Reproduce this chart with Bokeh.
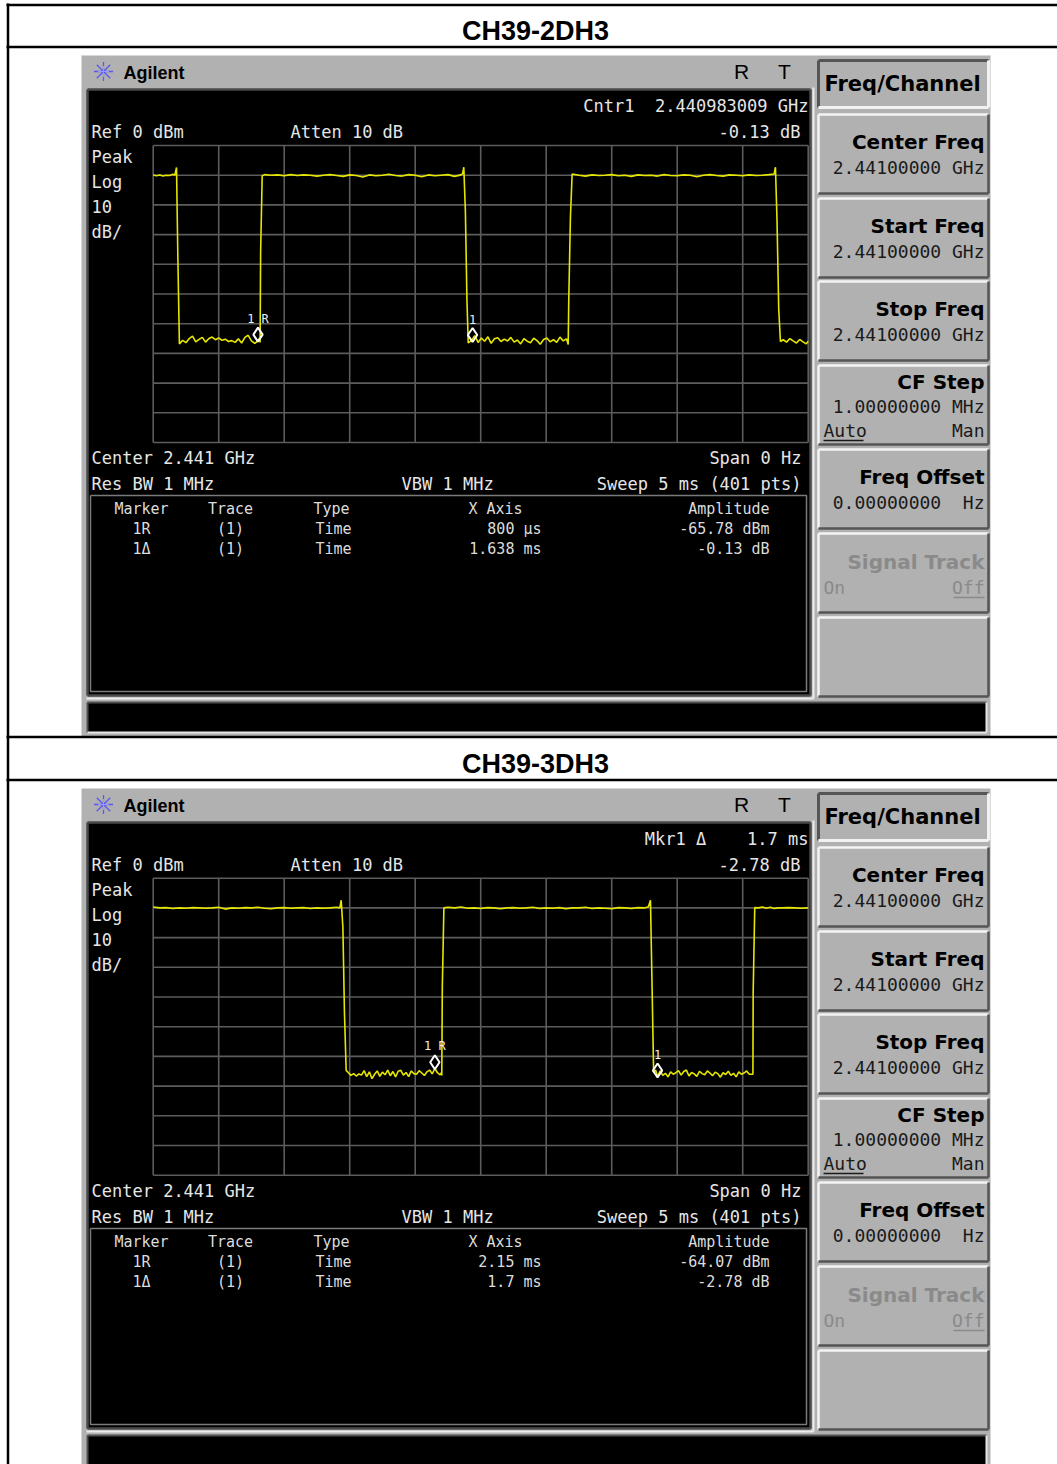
from bokeh.plotting import figure
from bokeh.models import Range1d
from bokeh.core.properties import value
from bokeh.embed import file_html
from bokeh.resources import INLINE

# ---------------- data ----------------
titles = ["CH39-2DH3", "CH39-3DH3"]
sweep_time_ms = 5.0
ref_level_dbm = 0.0
db_per_div = 10.0
n_divs = 10

# zero-span trace, CH39-2DH3 (time in ms, level in dBm)
trace1_t = [0.000, 0.025, 0.050, 0.075, 0.100, 0.125, 0.150, 0.165, 0.178,
            0.188, 0.200,
            0.225, 0.250, 0.275, 0.300, 0.325, 0.350, 0.375, 0.400, 0.425, 0.450,
            0.475, 0.500, 0.525, 0.550, 0.575, 0.600, 0.625, 0.650, 0.675, 0.700,
            0.725, 0.750, 0.775, 0.800, 0.812,
            0.816, 0.820, 0.832,
            0.85, 0.90, 0.95, 1.00, 1.05, 1.10, 1.15, 1.20, 1.25, 1.30, 1.35, 1.40,
            1.45, 1.50, 1.55, 1.60, 1.65, 1.70, 1.75, 1.80, 1.85, 1.90, 1.95, 2.00,
            2.05, 2.10, 2.15, 2.20, 2.25, 2.30, 2.35, 2.362, 2.371,
            2.383, 2.395, 2.405,
            2.430, 2.455, 2.480, 2.505, 2.530, 2.555, 2.580, 2.605, 2.630, 2.655,
            2.680, 2.705, 2.730, 2.755, 2.780, 2.805, 2.830, 2.855, 2.880, 2.905,
            2.930, 2.955, 2.980, 3.005, 3.030, 3.055, 3.080, 3.105, 3.130, 3.155, 3.168,
            3.172, 3.185, 3.198,
            3.25, 3.30, 3.35, 3.40, 3.45, 3.50, 3.55, 3.60, 3.65, 3.70, 3.75, 3.80,
            3.85, 3.90, 3.95, 4.00, 4.05, 4.10, 4.15, 4.20, 4.25, 4.30, 4.35, 4.40,
            4.45, 4.50, 4.55, 4.60, 4.65, 4.70, 4.74, 4.750,
            4.762, 4.775, 4.788,
            4.810, 4.835, 4.860, 4.885, 4.910, 4.935, 4.960, 4.985, 5.000]
trace1_dbm = [-9.9, -10.2, -9.9, -10.3, -10.0, -10.1, -9.7, -10.0, -7.4,
              -37.0, -66.8,
              -65.6, -66.4, -65.0, -64.2, -66.1, -65.3, -64.6, -66.2, -65.0, -64.5,
              -65.4, -64.8, -65.6, -65.2, -66.0, -65.7, -66.3, -65.1, -66.5, -64.6,
              -63.9, -65.8, -66.6, -65.78, -64.9,
              -66.3, -36.0, -10.2,
              -9.8, -10.0, -9.9, -10.2, -9.8, -10.1, -9.9, -10.0, -10.3, -10.0, -9.8, -10.1,
              -10.4, -9.9, -10.1, -10.6, -9.9, -10.2, -10.0, -9.7, -10.1, -10.3, -9.8, -10.0,
              -10.5, -9.9, -10.2, -10.0, -9.8, -10.4, -9.9, -9.5, -7.3,
              -22.0, -52.0, -66.5,
              -65.6, -64.0, -66.3, -64.8, -65.9, -64.4, -66.6, -65.1, -64.7, -66.0,
              -65.2, -65.8, -64.6, -66.2, -65.5, -66.8, -65.0, -65.9, -66.4, -64.9,
              -65.7, -66.9, -65.3, -64.8, -66.1, -65.4, -66.3, -64.5, -65.8, -65.1, -67.0,
              -52.6, -24.0, -9.6,
              -10.0, -10.3, -9.9, -10.1, -10.0, -9.8, -10.2, -10.0, -10.4, -9.9, -10.1, -10.0,
              -10.3, -9.8, -10.1, -10.2, -9.9, -10.0, -10.5, -10.0, -9.8, -10.1, -10.3, -9.9,
              -10.0, -10.2, -9.9, -10.1, -10.0, -9.8, -9.6, -7.3,
              -25.3, -55.0, -66.0,
              -65.4, -66.2, -65.0, -65.8, -66.5, -65.3, -66.1, -66.8, -65.9]

# zero-span trace, CH39-3DH3
trace2_t = [0.00, 0.05, 0.10, 0.15, 0.20, 0.25, 0.30, 0.35, 0.40, 0.45, 0.50, 0.55,
            0.60, 0.65, 0.70, 0.75, 0.80, 0.85, 0.90, 0.95, 1.00, 1.05, 1.10, 1.15,
            1.20, 1.25, 1.30, 1.35, 1.40, 1.425, 1.435,
            1.448, 1.460, 1.473,
            1.490, 1.510, 1.530, 1.550, 1.570, 1.590, 1.610, 1.630, 1.650, 1.670,
            1.690, 1.710, 1.730, 1.750, 1.770, 1.790, 1.810, 1.830, 1.850, 1.870,
            1.890, 1.910, 1.930, 1.950, 1.970, 1.990, 2.010, 2.030, 2.050, 2.070,
            2.090, 2.110, 2.130, 2.150, 2.170, 2.190, 2.200,
            2.203, 2.207, 2.219,
            2.25, 2.30, 2.35, 2.40, 2.45, 2.50, 2.55, 2.60, 2.65, 2.70, 2.75, 2.80,
            2.85, 2.90, 2.95, 3.00, 3.05, 3.10, 3.15, 3.20, 3.25, 3.30, 3.35, 3.40,
            3.45, 3.50, 3.55, 3.60, 3.65, 3.70, 3.75, 3.78, 3.796,
            3.808, 3.820,
            3.835, 3.850, 3.870, 3.890, 3.910, 3.930, 3.950, 3.970, 3.990, 4.010,
            4.030, 4.050, 4.070, 4.090, 4.110, 4.130, 4.150, 4.170, 4.190, 4.210,
            4.230, 4.250, 4.270, 4.290, 4.310, 4.330, 4.350, 4.370, 4.390, 4.410,
            4.430, 4.450, 4.470, 4.490, 4.510, 4.530, 4.550, 4.570,
            4.578, 4.580, 4.592,
            4.62, 4.65, 4.68, 4.71, 4.74, 4.77, 4.80, 4.85, 4.90, 4.95, 5.00]
trace2_dbm = [-9.7, -10.0, -9.9, -10.2, -10.0, -10.1, -9.9, -10.0, -10.1, -10.0, -9.8, -10.4,
              -10.0, -10.1, -9.9, -10.0, -9.8, -10.1, -10.3, -10.0, -9.9, -10.1, -10.0, -9.9,
              -10.2, -10.0, -10.1, -10.0, -9.8, -10.0, -7.4,
              -16.5, -45.3, -64.7,
              -65.5, -66.4, -65.8, -66.6, -65.9, -66.3, -64.8, -66.8, -65.2, -67.5,
              -66.0, -64.9, -66.7, -65.3, -66.2, -64.6, -66.5, -65.1, -66.9, -65.0,
              -64.7, -66.3, -65.4, -66.8, -64.9, -65.8, -66.0, -64.8, -65.6, -66.4,
              -65.2, -64.6, -65.9, -64.07, -65.5, -66.2, -65.5,
              -66.4, -36.7, -10.0,
              -9.8, -10.0, -9.7, -10.1, -10.0, -10.2, -9.9, -10.0, -10.3, -10.0, -9.9, -10.1,
              -10.0, -9.8, -10.2, -10.0, -10.1, -9.9, -10.3, -10.0, -10.0, -9.8, -10.2, -10.0,
              -10.1, -10.3, -9.9, -10.0, -10.2, -9.9, -10.0, -9.6, -7.4,
              -36.0, -65.3,
              -64.6, -66.85, -64.9, -66.4, -65.7, -66.9, -65.2, -66.0, -65.5, -64.8,
              -66.3, -65.1, -64.6, -66.6, -65.4, -65.9, -66.7, -65.0, -65.8, -66.2,
              -64.9, -65.6, -66.5, -65.3, -65.8, -67.0, -65.5, -66.1, -65.0, -66.4,
              -65.7, -66.9, -65.2, -66.0, -65.6, -64.9, -66.0, -66.0,
              -66.0, -38.4, -9.9,
              -10.0, -9.7, -10.1, -9.8, -10.2, -10.0, -10.0, -9.9, -10.0, -10.1, -10.0]

traces_t = [trace1_t, trace2_t]
traces_dbm = [trace1_dbm, trace2_dbm]

markers_t = [[0.800, 2.438], [2.15, 3.85]]
markers_dbm = [[-65.78, -65.91], [-64.07, -66.85]]
marker_tags = ["1\u00a0R", "1"]

readout_top = ["Cntr1  2.440983009 GHz", "Mkr1 \u0394    1.7 ms"]
readout_amp = ["-0.13 dB", "-2.78 dB"]

table_head = ["Marker", "Trace", "Type", "X Axis", "Amplitude"]
table_markers = ["1R", "1\u0394"]
table_traces = ["(1)", "(1)"]
table_types = ["Time", "Time"]
table_xaxis = [["800 \u00b5s", "1.638 ms"], ["2.15 ms", "1.7 ms"]]
table_amp = [["-65.78 dBm", "-0.13 dB"], ["-64.07 dBm", "-2.78 dB"]]

settings_left = ["Center 2.441 GHz", "Res BW 1 MHz"]
settings_mid = "VBW 1 MHz"
settings_right = ["Span 0 Hz", "Sweep 5 ms (401 pts)"]
atten_text = "Atten 10 dB"

softkey_menu = "Freq/Channel"
softkey_labels = ["Center Freq", "Start Freq", "Stop Freq", "CF Step", "Freq Offset", "Signal Track", ""]
softkey_values = ["2.44100000 GHz", "2.44100000 GHz", "2.44100000 GHz", "1.00000000 MHz",
                  "0.00000000  Hz", "", ""]

# ---------------- layout (reference pixel space) ----------------
W, H = 1057, 1464
X0, Y0 = 0, 0
SCREEN_OFF = [0, 733]
GX_L, GX_R = 152.7, 807.7
GY_T = [145.0, 877.7]
GH = 297.0

MONO = "DejaVu Sans Mono"
SANS = "DejaVu Sans"
ARIAL = "Liberation Sans"
BEZEL = "#b1b1b1"
TXT = "#e6e6e6"

px_ms = (GX_R - GX_L) / sweep_time_ms
px_db = GH / (n_divs * db_per_div)

p = figure(width=W, height=H, x_range=Range1d(X0, X0 + W), y_range=Range1d(Y0 + H, Y0),
           output_backend="svg", toolbar_location=None,
           x_axis_location=None, y_axis_location=None, min_border=0)
p.outline_line_color = None
p.background_fill_color = "white"
p.border_fill_color = "white"
p.grid.visible = False

p.extra_x_ranges = {"t": Range1d((X0 - GX_L) / px_ms, (X0 + W - GX_L) / px_ms)}
p.extra_y_ranges = {
    f"db{s}": Range1d(ref_level_dbm - (Y0 + H - GY_T[s]) / px_db,
                      ref_level_dbm + (GY_T[s] - Y0) / px_db)
    for s in range(2)
}


def txt(xs, ys, texts, font, size, color, align="left", style="normal"):
    texts = [t.replace(" ", "\u00a0") for t in texts]
    p.text(x=xs, y=ys, text=texts, text_font=value(font), text_font_size=f"{size}px",
           text_color=color, text_align=align, text_baseline="middle", text_font_style=style)


def rect(l, r, t, b, fill):
    p.quad(left=[l], right=[r], top=[t], bottom=[b], fill_color=fill, line_color=None)


def lines(xs, ys, color, w):
    p.multi_line(xs=xs, ys=ys, line_color=color, line_width=w)


def bevel(l, r, t, b, tl, br, w=2):
    lines([[l, r], [l, l]], [[t, t], [t, b]], tl, w)
    lines([[l, r], [r, r]], [[b, b], [t, b]], br, w)


for s in range(2):
    o = SCREEN_OFF[s]
    # instrument bezel
    rect(81, 990, 55 + o, 736 + o, BEZEL)
    # logo
    p.scatter(x=[103], y=[71 + o], marker="asterisk", size=19, line_color="#5858ee", line_width=1.3)
    p.scatter(x=[103], y=[71 + o], marker="cross", size=11, line_color="#9a9aff", line_width=1)
    txt([123], [72 + o], ["Agilent"], ARIAL, 18, "black", style="bold")
    txt([741, 784], [71 + o, 71 + o], ["R", "T"], ARIAL, 21, "black", align="center")

    # main display
    rect(87, 810, 89 + o, 695 + o, "black")
    bevel(87, 810, 89 + o, 695 + o, "#4a4a4a", "#4a4a4a", 2.5)
    lines([[813, 813], [86, 813]], [[87 + o, 698 + o], [698 + o, 698 + o]], "#ececec", 2)

    # status bar
    rect(87, 986, 702 + o, 732 + o, "black")
    bevel(87, 986, 702 + o, 732 + o, "#505050", "#e6e6e6", 2)

    # graticule (through the trace scales)
    yr = f"db{s}"
    vt = [i * sweep_time_ms / n_divs for i in range(n_divs + 1)]
    hd = [ref_level_dbm - i * db_per_div for i in range(n_divs + 1)]
    bottom_db = ref_level_dbm - n_divs * db_per_div
    p.segment(x0=vt, x1=vt, y0=[bottom_db] * len(vt), y1=[ref_level_dbm] * len(vt),
              x_range_name="t", y_range_name=yr, line_color="#5c5c5c", line_width=1.6)
    p.segment(x0=[0] * len(hd), x1=[sweep_time_ms] * len(hd), y0=hd, y1=hd,
              x_range_name="t", y_range_name=yr, line_color="#5c5c5c", line_width=1.6)

    # trace
    p.line(traces_t[s], traces_dbm[s], x_range_name="t", y_range_name=yr,
           line_color="#e6e600", line_width=1.6)

    # markers
    mk_y = [v + 2.1 for v in markers_dbm[s]]
    p.scatter(x=markers_t[s], y=mk_y, x_range_name="t", y_range_name=yr, marker="diamond",
              size=14, line_color="white", fill_color=None, line_width=2)
    p.text(x=markers_t[s], y=mk_y, text=marker_tags, x_range_name="t", y_range_name=yr,
           text_font=value(MONO), text_font_size="12px", text_color="#f0f0f0",
           text_align="center", text_baseline="middle", y_offset=-16)

    # annotations
    txt([808], [105 + o], [readout_top[s]], MONO, 17, TXT, align="right")
    txt([800], [131 + o], [readout_amp[s]], MONO, 17, TXT, align="right")
    txt([91, 290], [131 + o, 131 + o], [f"Ref {ref_level_dbm:.0f} dBm", atten_text], MONO, 17, TXT)
    txt([91] * 4, [156 + o, 181 + o, 206 + o, 231 + o],
        ["Peak", "Log", f"{db_per_div:.0f}", "dB/"], MONO, 17, TXT)
    txt([91, 91, 401], [457 + o, 483 + o, 483 + o], settings_left + [settings_mid], MONO, 17, TXT)
    txt([801, 801], [457 + o, 483 + o], settings_right, MONO, 17, TXT, align="right")

    # marker table
    lines([[90, 806, 806, 90, 90]], [[495 + o, 495 + o, 691 + o, 691 + o, 495 + o]], "#7a7a7a", 1.5)
    TT = "#dcdcdc"
    txt([141, 230, 331, 495], [508 + o] * 4, table_head[:4], MONO, 15, TT, align="center")
    txt([769], [508 + o], [table_head[4]], MONO, 15, TT, align="right")
    ry = [528 + o, 548 + o]
    txt([141, 141], ry, table_markers, MONO, 15, TT, align="center")
    txt([230, 230], ry, table_traces, MONO, 15, TT, align="center")
    txt([333, 333], ry, table_types, MONO, 15, TT, align="center")
    txt([541, 541], ry, table_xaxis[s], MONO, 15, TT, align="right")
    txt([769, 769], ry, table_amp[s], MONO, 15, TT, align="right")

    # softkeys
    rect(818, 988, 60 + o, 107 + o, BEZEL)
    bevel(818, 988, 60 + o, 107 + o, "#555555", "#f2f2f2", 3)
    txt([824], [83 + o], [softkey_menu], SANS, 21, "black", style="bold")
    key_tops = [114, 198, 281, 365, 449, 533, 617]
    for k, kt in enumerate(key_tops):
        t = kt + o
        rect(818, 988, t, t + 79, BEZEL)
        bevel(818, 988, t, t + 79, "#f4f4f4", "#555555", 2.5)
        lab = softkey_labels[k]
        val = softkey_values[k]
        if k == 3:
            txt([984], [t + 16], [lab], SANS, 20, "black", align="right", style="bold")
            txt([984], [t + 41], [val], MONO, 18, "#1a1a1a", align="right")
            txt([823], [t + 65], ["Auto"], MONO, 18, "#1a1a1a")
            txt([984], [t + 65], ["Man"], MONO, 18, "#1a1a1a", align="right")
            lines([[823, 863]], [[t + 75, t + 75]], "#1a1a1a", 1.5)
        elif k == 5:
            txt([984], [t + 28], [lab], SANS, 20, "#8a8a8a", align="right", style="bold")
            txt([823], [t + 54], ["On"], MONO, 18, "#8a8a8a")
            txt([984], [t + 54], ["Off"], MONO, 18, "#8a8a8a", align="right")
            lines([[953, 984]], [[t + 64, t + 64]], "#8a8a8a", 1.5)
        elif lab:
            txt([984], [t + 27], [lab], SANS, 20, "black", align="right", style="bold")
            txt([984], [t + 53], [val], MONO, 18, "#1a1a1a", align="right")

# document table frame & titles
lines([[7.5, 7.5]], [[3, 1464]], "black", 2.5)
lines([[6, 1057], [6, 1057], [6, 1057], [6, 1057]],
      [[4.5, 4.5], [46.5, 46.5], [736.5, 736.5], [779.5, 779.5]], "black", 2.5)
txt([535, 535], [30, 763], titles, ARIAL, 27, "black", align="center", style="bold")

open("out.html", "w").write(file_html(p, INLINE))
